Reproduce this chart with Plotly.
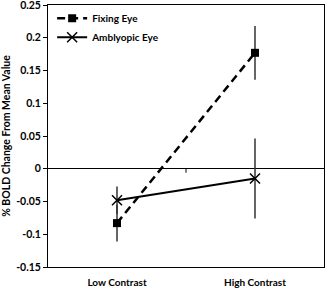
import plotly.graph_objects as go

categories = ["Low Contrast", "High Contrast"]
fixing_vals = [-0.083, 0.177]
fixing_err = [0.028, 0.041]
amblyopic_vals = [-0.048, -0.015]
amblyopic_err = [0.021, 0.061]
y_ticks = [0.25, 0.2, 0.15, 0.1, 0.05, 0, -0.05, -0.1, -0.15]
y_tick_labels = ["0.25", "0.2", "0.15", "0.1", "0.05", "0", "-0.05", "-0.1", "-0.15"]

xpos = list(range(len(categories)))
font_family = "Lato"

fig = go.Figure()
fig.add_trace(go.Scatter(
    x=xpos, y=fixing_vals, name="Fixing Eye", mode="lines+markers",
    line=dict(color="black", width=2.5, dash="8px,5px"),
    marker=dict(symbol="square", size=8, color="black"),
    error_y=dict(type="data", array=fixing_err, color="#333333", thickness=1.5, width=0),
))
fig.add_trace(go.Scatter(
    x=xpos, y=amblyopic_vals, name="Amblyopic Eye", mode="lines+markers",
    line=dict(color="black", width=2),
    marker=dict(symbol="x-thin", size=10, line=dict(color="black", width=1.5)),
    error_y=dict(type="data", array=amblyopic_err, color="#333333", thickness=1.5, width=0),
))

# category divider tick on the y=0 axis line
fig.add_shape(type="line", x0=0.5, x1=0.5, y0=0, y1=-0.006, xref="x", yref="y",
              line=dict(color="black", width=1))

fig.update_layout(
    width=325, height=289,
    margin=dict(l=48, r=1, t=5, b=22, autoexpand=False),
    paper_bgcolor="white", plot_bgcolor="white",
    font=dict(family=font_family, color="black"),
    showlegend=True,
    legend=dict(x=0.015, y=1.005, xanchor="left", yanchor="top",
                bgcolor="rgba(0,0,0,0)", font=dict(size=10, family=font_family, weight="bold"),
                itemwidth=30, tracegroupgap=0),
    xaxis=dict(range=[-0.5, 1.5], tickvals=xpos, ticktext=categories,
               showgrid=False, zeroline=False, showline=True, mirror=True,
               linecolor="black", linewidth=1, ticks="", automargin=False,
               ticklabeloverflow="allow", ticklabelstandoff=6,
               tickfont=dict(size=10, family=font_family, weight="bold")),
    yaxis=dict(range=[-0.15, 0.25], tickvals=y_ticks, ticktext=y_tick_labels,
               showgrid=False, zeroline=True, zerolinecolor="black", zerolinewidth=1,
               showline=True, mirror=True, linecolor="black", linewidth=1,
               ticks="outside", ticklen=4, tickcolor="black", automargin=False,
               ticklabeloverflow="allow",
               tickfont=dict(size=10.5, family=font_family, weight="bold"),
               title=dict(text="% BOLD Change From Mean Value", standoff=5,
                          font=dict(size=10.5, family=font_family, weight="bold"))),
)

fig.write_html("out.html", config={"displayModeBar": False},
               post_script="document.body.style.margin='0';")
